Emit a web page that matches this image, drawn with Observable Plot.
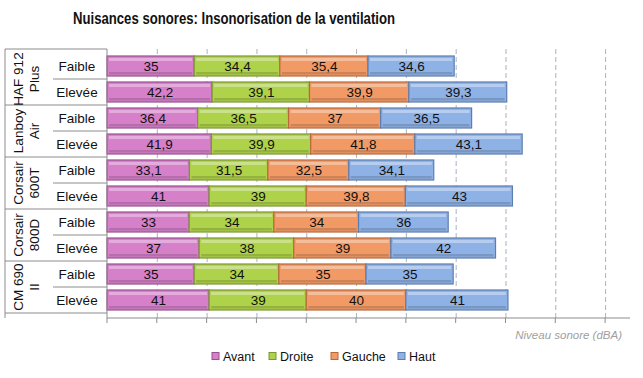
<!DOCTYPE html>
<html><head><meta charset="utf-8">
<script src="https://cdn.jsdelivr.net/npm/d3@7"></script>
<script src="https://cdn.jsdelivr.net/npm/@observablehq/plot@0.6"></script>
<style>
body{margin:0;background:#fff;}
#chart{position:relative;width:643px;height:378px;font-family:"Liberation Sans",Arial,sans-serif;}
</style></head>
<body><div id="chart"></div>
<script>
const cases = ["HAF 912 Plus", "Lanboy Air", "Corsair 600T", "Corsair 800D", "CM 690 II"];
const caseLines = [["HAF 912","Plus"],["Lanboy","Air"],["Corsair","600T"],["Corsair","800D"],["CM 690","II"]];
const levels = ["Faible","Elevée"];
const series = ["Avant","Droite","Gauche","Haut"];
const colors = ["#D680C9","#AFD24B","#F29A66","#8FB2E6"];
const strokes = ["#9A4F90","#7A9830","#B8693C","#5C7DAF"];
const avant  = [35, 42.2, 36.4, 41.9, 33.1, 41, 33, 37, 35, 41];
const droite = [34.4, 39.1, 36.5, 39.9, 31.5, 39, 34, 38, 34, 39];
const gauche = [35.4, 39.9, 37, 41.8, 32.5, 39.8, 34, 39, 35, 40];
const haut   = [34.6, 39.3, 36.5, 43.1, 34.1, 43, 36, 42, 35, 41];
const gridTicks = [20,40,60,80,100,120,140,160,180,200];
const xTitle = "Niveau sonore (dBA)";
const title = "Nuisances sonores: Insonorisation de la ventilation";

const values = [avant, droite, gauche, haut];
const rows = [];
cases.forEach((c,ci)=>levels.forEach((l,li)=>rows.push({key:c+"|"+l, c, l, idx:ci*2+li})));
const data = [];
rows.forEach(r=>series.forEach((s,si)=>data.push({key:r.key, level:r.l, serie:s, v:values[si][r.idx]})));
const fmt = v => String(v).replace(".", ",");

const W=643,H=378;
const plot = Plot.plot({
  width:W, height:H,
  marginLeft:107, marginRight:13, marginTop:49, marginBottom:60,
  style:{fontFamily:"'Liberation Sans',Arial,sans-serif", background:"transparent"},
  x:{domain:[0,210], axis:null},
  y:{domain:rows.map(r=>r.key), padding:0.22, axis:null},
  color:{domain:series, range:colors},
  marks:[
    Plot.ruleX(gridTicks,{stroke:"#a9b3c2", strokeDasharray:"5,3"}),
    Plot.barX(data, Plot.stackX({x:"v", y:"key", z:"serie", fill:"serie", order:series, strokeWidth:1.2})),
    Plot.text(data, Plot.stackX({x:"v", y:"key", z:"serie", order:series, text:d=>fmt(d.v), fill:"#111", fontSize:13.5}))
  ]
});
document.getElementById("chart").appendChild(plot);

const svg = d3.select(plot);
const ys = plot.scale("y");
const xs = plot.scale("x");
const bw = ys.bandwidth;
const step = ys.step;
const yTop = 49, yBottom = H-60;
const x0 = xs.apply(0), x1 = xs.apply(210);
const g = svg.append("g").attr("font-family","'Liberation Sans',Arial,sans-serif").attr("text-anchor","start");
// bar borders and bevel highlight
const textG = svg.select("g[aria-label='text']").node();
const norm = c => d3.color(c).formatHex().toLowerCase();
svg.selectAll("g[aria-label='bar'] rect").each(function(){
  const r = d3.select(this);
  const f = norm(r.attr("fill"));
  const si = colors.map(norm).indexOf(f);
  if (si >= 0) r.attr("stroke", strokes[si]).attr("stroke-width",1.2);
  const rx=+r.attr("x"), ry=+r.attr("y"), rw=+r.attr("width"), rh=+r.attr("height");
  const hi = document.createElementNS("http://www.w3.org/2000/svg","rect");
  d3.select(hi).attr("x",rx+2).attr("y",ry+2).attr("width",Math.max(0,rw-4)).attr("height",3).attr("fill","#fff").attr("opacity",0.35);
  plot.insertBefore(hi, textG);
  const lo = document.createElementNS("http://www.w3.org/2000/svg","rect");
  d3.select(lo).attr("x",rx+2).attr("y",ry+rh-4).attr("width",Math.max(0,rw-4)).attr("height",2.5).attr("fill","#000").attr("opacity",0.15);
  plot.insertBefore(lo, textG);
});
const line = (xa,ya,xb,yb,c="#8c8c8c")=>g.append("line").attr("x1",xa).attr("y1",ya).attr("x2",xb).attr("y2",yb).attr("stroke",c).attr("stroke-width",1);
// axes
line(x0, yBottom, x1, yBottom);
line(x0, yTop, x0, yBottom+5);
gridTicks.forEach(t=>line(xs.apply(t), yBottom, xs.apply(t), yBottom+5));
// table lines
line(5, yTop, x0, yTop);
line(5, yTop, 5, yBottom);
cases.forEach((c,ci)=>{
  const yf = ys.apply(c+"|Faible") - (step-bw)/2;
  const mid = yf + step;
  const end = yf + 2*step;
  line(53, mid, x0, mid);
  line(5, end, x0, end);
  const t = g.append("text").attr("transform",`translate(${25},${mid}) rotate(-90)`)
    .attr("text-anchor","middle").attr("font-size",13.5).attr("fill","#111");
  t.append("tspan").attr("x",0).attr("dy","-0.15em").text(caseLines[ci][0]);
  t.append("tspan").attr("x",0).attr("dy","1.2em").text(caseLines[ci][1]);
  levels.forEach(l=>{
    g.append("text").attr("x",77).attr("y",ys.apply(c+"|"+l)+bw/2).attr("dy","0.35em")
      .attr("text-anchor","middle").attr("font-size",13.5).attr("fill","#111").text(l);
  });
});
// title
g.append("text").attr("x",73).attr("y",24).attr("text-anchor","start").attr("font-size",16.5)
  .attr("font-weight","bold").attr("fill","#111")
  .attr("textLength",322).attr("lengthAdjust","spacingAndGlyphs").text(title);
// x title
g.append("text").attr("x",622).attr("y",339).attr("text-anchor","end").attr("font-size",11.5)
  .attr("font-style","italic").attr("fill","#a0a0a0").text(xTitle);
// legend
const lx = [212, 269, 331, 398];
series.forEach((s,i)=>{
  g.append("rect").attr("x",lx[i]).attr("y",352.5).attr("width",7).attr("height",7).attr("fill",colors[i]).attr("stroke",strokes[i]);
  g.append("text").attr("x",lx[i]+11).attr("y",360.5).attr("text-anchor","start").attr("font-size",12.5).attr("fill","#111").text(s);
});
</script></body></html>
